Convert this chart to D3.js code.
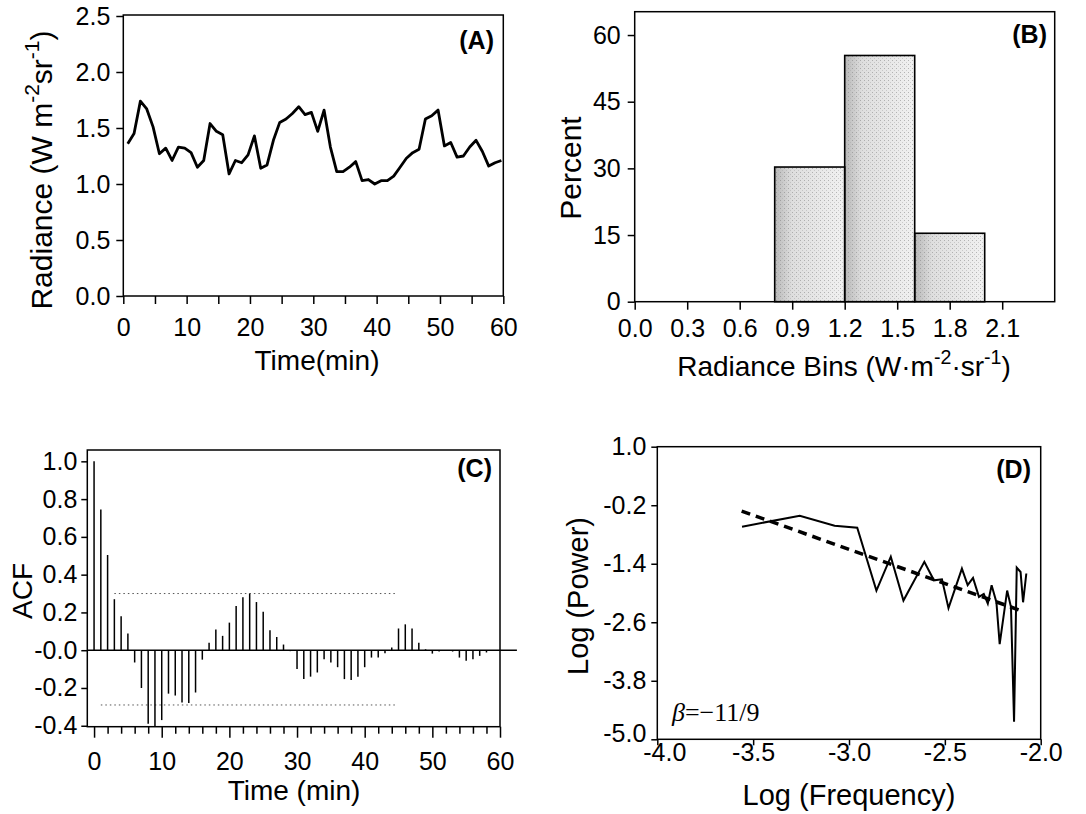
<!DOCTYPE html>
<html>
<head>
<meta charset="utf-8">
<script src="https://cdn.jsdelivr.net/npm/d3@7"></script>
<style>
  body { margin: 0; background: #fff; }
  svg text { font-family: "Liberation Sans", Arial, Helvetica, sans-serif; fill: #000; }
</style>
</head>
<body>
<svg id="fig" width="1086" height="814"></svg>
<script>
// ---- data ----
// (A) radiance time series, one sample per minute
let minutes = d3.range(1, 61);
let radiance = [1.36, 1.45, 1.74, 1.67, 1.51, 1.27, 1.32, 1.21, 1.33, 1.32,
                1.28, 1.15, 1.21, 1.54, 1.47, 1.44, 1.09, 1.21, 1.19, 1.26,
                1.43, 1.14, 1.17, 1.39, 1.55, 1.58, 1.63, 1.69, 1.62, 1.64,
                1.47, 1.66, 1.33, 1.11, 1.11, 1.15, 1.20, 1.03, 1.04, 1.00,
                1.03, 1.03, 1.07, 1.15, 1.23, 1.28, 1.31, 1.58, 1.61, 1.66,
                1.34, 1.37, 1.24, 1.25, 1.33, 1.39, 1.29, 1.16, 1.19, 1.21];
let timeTicks = [0, 10, 20, 30, 40, 50, 60];
let radianceTicks = [0, 0.5, 1.0, 1.5, 2.0, 2.5];

// (B) histogram
let binStart = [0.8, 1.2, 1.6];
let binEnd = [1.2, 1.6, 2.0];
let percent = [30.3, 55.4, 15.4];
let binTicks = [0, 0.3, 0.6, 0.9, 1.2, 1.5, 1.8, 2.1];
let percentTicks = [0, 15, 30, 45, 60];

// (C) autocorrelation
let lags = d3.range(0, 59);
let acf = [1.0, 0.745, 0.504, 0.27, 0.18, 0.088, -0.065, -0.20, -0.39, -0.41,
           -0.37, -0.23, -0.24, -0.277, -0.28, -0.224, -0.05, 0.04, 0.11, 0.076,
           0.146, 0.234, 0.28, 0.30, 0.255, 0.204, 0.106, 0.07, 0.03, -0.005,
           -0.10, -0.153, -0.14, -0.118, -0.048, -0.065, -0.09, -0.153, -0.158, -0.14,
           -0.09, -0.039, -0.039, -0.016, 0.014, 0.115, 0.137, 0.115, 0.04, 0.005,
           -0.018, -0.007, 0.0, -0.007, -0.039, -0.056, -0.048, -0.03, -0.012];
let acfUpper = [[3, 0.30], [44.7, 0.30]];
let acfLower = [[1, -0.29], [44.7, -0.29]];
let acfTicks = [1.0, 0.8, 0.6, 0.4, 0.2, 0.0, -0.2, -0.4];
let acfTickLabels = ['1.0', '0.8', '0.6', '0.4', '0.2', '-0.0', '-0.2', '-0.4'];

// (D) power spectrum, log-log
let logFreq = [-3.558, -3.257, -3.075, -2.957, -2.857, -2.782, -2.716, -2.607, -2.557, -2.515,
               -2.481, -2.411, -2.381, -2.353, -2.322, -2.297, -2.276, -2.256, -2.231, -2.214,
               -2.175, -2.155, -2.139, -2.125, -2.105, -2.092, -2.075];
let logPower = [-0.64, -0.415, -0.62, -0.66, -1.95, -1.255, -2.154, -1.36, -1.74, -1.72,
                -2.31, -1.50, -1.84, -1.69, -2.08, -2.02, -2.22, -1.84, -2.19, -3.05,
                -1.95, -2.29, -4.64, -1.48, -1.57, -2.19, -1.60];
let fitFreq = [-3.56, -2.09];
let fitPower = [-0.32, -2.38];
let freqTicks = [-4.0, -3.5, -3.0, -2.5, -2.0];
let powerTicks = [1.0, -0.2, -1.4, -2.6, -3.8, -5.0];

let svg = d3.select('#fig');
let fmt1 = d => d.toFixed(1).replace('\u2212', '-');

// text with superscripts, parts = [[text, isSup], ...]
function richText(sel, parts, size) {
  let prevSup = false;
  parts.forEach(p => {
    let t = sel.append('tspan').text(p[0]);
    if (p[1]) {
      t.attr('font-size', size * 0.7).attr('dy', -size * 0.42);
    } else if (prevSup) {
      t.attr('dy', size * 0.42);
    }
    prevSup = p[1];
  });
}

function styleAxis(g, labelOffset, side) {
  g.select('.domain').remove();
  g.selectAll('line').attr('stroke', '#000').attr('stroke-width', 1.5);
  g.selectAll('text').attr('font-size', 25).attr('fill', '#000')
    .style('font-family', '"Liberation Sans", Arial, sans-serif');
  if (side === 'bottom') {
    g.selectAll('text').attr('y', labelOffset).attr('dy', 0);
  }
}

function frame(x0, x1, y0, y1) {
  svg.append('rect')
    .attr('x', x0).attr('y', y0)
    .attr('width', x1 - x0).attr('height', y1 - y0)
    .attr('fill', 'none').attr('stroke', '#000').attr('stroke-width', 1.5);
}

function panelTag(label, x, y) {
  svg.append('text').attr('x', x).attr('y', y)
    .attr('text-anchor', 'end').attr('font-size', 25).attr('font-weight', 'bold')
    .text(label);
}

// ================= (A) =================
let xA = d3.scaleLinear().domain([0, 60]).range([123.3, 503.3]);
let yA = d3.scaleLinear().domain([0, 2.5]).range([296, 16]);

frame(123.3, 503.3, 15, 296);

svg.append('g').attr('transform', 'translate(0,296)')
  .call(d3.axisBottom(xA).tickValues(d3.range(0, 61, 5)).tickSize(8)
    .tickFormat(d => timeTicks.includes(d) ? d : ''))
  .call(g => styleAxis(g, 40, 'bottom'));

svg.append('g').attr('transform', 'translate(123.3,0)')
  .call(d3.axisLeft(yA).tickValues(radianceTicks).tickSize(7).tickPadding(6).tickFormat(fmt1))
  .call(g => styleAxis(g, 0, 'left'));

svg.append('path')
  .datum(radiance)
  .attr('fill', 'none').attr('stroke', '#000').attr('stroke-width', 2.8)
  .attr('stroke-linejoin', 'round')
  .attr('d', d3.line().x((d, i) => xA(minutes[i] - 0.3)).y(d => yA(d)));

svg.append('text').attr('x', 317).attr('y', 370).attr('text-anchor', 'middle')
  .attr('font-size', 28).text('Time(min)');

richText(svg.append('text').attr('transform', 'translate(52,170) rotate(-90)')
  .attr('text-anchor', 'middle').attr('font-size', 30),
  [['Radiance (W m', false], ['-2', true], ['sr', false], ['-1', true], [')', false]], 30);

panelTag('(A)', 494, 49);

// ================= (B) =================
let xB = d3.scaleLinear().domain([0, 2.4]).range([634.7, 1054.7]);
let yB = d3.scaleLinear().domain([0, 65.25]).range([301.7, 11.7]);

let defs = svg.append('defs');
let grad = defs.append('linearGradient').attr('id', 'barShade')
  .attr('x1', '0').attr('x2', '1').attr('y1', '0').attr('y2', '0');
grad.append('stop').attr('offset', '0%').attr('stop-color', '#b8b8b8');
grad.append('stop').attr('offset', '25%').attr('stop-color', '#dedede');
grad.append('stop').attr('offset', '100%').attr('stop-color', '#f1f1f1');
let pat = defs.append('pattern').attr('id', 'stipple')
  .attr('width', 4).attr('height', 4).attr('patternUnits', 'userSpaceOnUse');
pat.append('rect').attr('x', 0).attr('y', 0).attr('width', 1).attr('height', 1).attr('fill', '#7a7a7a');
pat.append('rect').attr('x', 2).attr('y', 2).attr('width', 1).attr('height', 1).attr('fill', '#a8a8a8');

frame(634.7, 1054.7, 11.7, 301.7);

let bars = svg.append('g');
bars.selectAll('rect.shade').data(percent).enter().append('rect')
  .attr('class', 'shade')
  .attr('x', (d, i) => xB(binStart[i]))
  .attr('width', (d, i) => xB(binEnd[i]) - xB(binStart[i]))
  .attr('y', d => yB(d))
  .attr('height', d => yB(0) - yB(d))
  .attr('fill', 'url(#barShade)');
bars.selectAll('rect.dots').data(percent).enter().append('rect')
  .attr('class', 'dots')
  .attr('x', (d, i) => xB(binStart[i]))
  .attr('width', (d, i) => xB(binEnd[i]) - xB(binStart[i]))
  .attr('y', d => yB(d))
  .attr('height', d => yB(0) - yB(d))
  .attr('fill', 'url(#stipple)').attr('opacity', 0.5);
bars.selectAll('rect.edge').data(percent).enter().append('rect')
  .attr('class', 'edge')
  .attr('x', (d, i) => xB(binStart[i]))
  .attr('width', (d, i) => xB(binEnd[i]) - xB(binStart[i]))
  .attr('y', d => yB(d))
  .attr('height', d => yB(0) - yB(d))
  .attr('fill', 'none').attr('stroke', '#000').attr('stroke-width', 1.6);

svg.append('g').attr('transform', 'translate(0,301.7)')
  .call(d3.axisBottom(xB).tickValues(binTicks).tickSize(8).tickFormat(fmt1))
  .call(g => styleAxis(g, 35, 'bottom'));

svg.append('g').attr('transform', 'translate(634.7,0)')
  .call(d3.axisLeft(yB).tickValues(percentTicks).tickSize(7).tickPadding(7))
  .call(g => styleAxis(g, 0, 'left'));

richText(svg.append('text').attr('x', 844).attr('y', 376).attr('text-anchor', 'middle')
  .attr('font-size', 28),
  [['Radiance Bins (W\u00b7m', false], ['-2', true], ['\u00b7sr', false], ['-1', true], [')', false]], 28);

svg.append('text').attr('transform', 'translate(581,168) rotate(-90)')
  .attr('text-anchor', 'middle').attr('font-size', 30).text('Percent');

panelTag('(B)', 1047, 43);

// ================= (C) =================
let xC = d3.scaleLinear().domain([-1, 60]).range([87.3, 500]);
let yC = d3.scaleLinear().domain([-0.405, 1.06]).range([726.7, 450]);

frame(87.3, 500, 450, 726.7);

svg.append('g').attr('transform', 'translate(0,726.7)')
  .call(d3.axisBottom(xC).tickValues(d3.range(0, 61, 2)).tickSize(7)
    .tickFormat(d => timeTicks.includes(d) ? d : ''))
  .call(g => styleAxis(g, 43, 'bottom'))
  .call(g => g.selectAll('.tick').filter(d => d % 10 === 0).select('line').attr('y2', 11));

svg.append('g').attr('transform', 'translate(87.3,0)')
  .call(d3.axisLeft(yC).tickValues(acfTicks).tickSize(6).tickPadding(4)
    .tickFormat((d, i) => acfTickLabels[i]))
  .call(g => styleAxis(g, 0, 'left'));

// confidence bands
[acfUpper, acfLower].forEach(band => {
  svg.append('path').datum(band)
    .attr('fill', 'none').attr('stroke', '#555').attr('stroke-width', 1)
    .attr('stroke-dasharray', '1.5,3')
    .attr('d', d3.line().x(d => xC(d[0])).y(d => yC(d[1])));
});

// zero line runs a little past the frame
svg.append('line')
  .attr('x1', xC(-1)).attr('x2', xC(62.5))
  .attr('y1', yC(0)).attr('y2', yC(0))
  .attr('stroke', '#000').attr('stroke-width', 1.5);

svg.append('g').selectAll('line').data(acf).enter().append('line')
  .attr('x1', (d, i) => xC(lags[i])).attr('x2', (d, i) => xC(lags[i]))
  .attr('y1', yC(0)).attr('y2', d => yC(Math.max(d, -0.405)))
  .attr('stroke', '#000').attr('stroke-width', 1.5);

svg.append('text').attr('x', 294).attr('y', 800).attr('text-anchor', 'middle')
  .attr('font-size', 28).text('Time (min)');

svg.append('text').attr('transform', 'translate(32,591) rotate(-90)')
  .attr('text-anchor', 'middle').attr('font-size', 28).text('ACF');

panelTag('(C)', 492, 477);

// ================= (D) =================
let xD = d3.scaleLinear().domain([-4, -2]).range([657.3, 1040.7]);
let yD = d3.scaleLinear().domain([-5, 1]).range([739.3, 446.7]);

frame(657.3, 1040.7, 446.7, 739.3);

svg.append('g').attr('transform', 'translate(0,739.3)')
  .call(d3.axisBottom(xD).tickValues(freqTicks).tickSize(6).tickFormat(fmt1))
  .call(g => styleAxis(g, 22, 'bottom'))
  .call(g => g.selectAll('.tick').filter(d => d === -4).select('text').attr('dx', 7));

svg.append('g').attr('transform', 'translate(657.3,0)')
  .call(d3.axisLeft(yD).tickValues(powerTicks).tickSize(6).tickPadding(5).tickFormat(fmt1))
  .call(g => styleAxis(g, 0, 'left'))
  .call(g => g.selectAll('.tick').filter(d => d === -5).select('text').attr('dy', '0.1em'));

svg.append('path')
  .datum(logFreq)
  .attr('fill', 'none').attr('stroke', '#000').attr('stroke-width', 2)
  .attr('stroke-linejoin', 'miter')
  .attr('d', d3.line().x(d => xD(d)).y((d, i) => yD(logPower[i])));

svg.append('path')
  .datum(fitFreq)
  .attr('fill', 'none').attr('stroke', '#000').attr('stroke-width', 3.5)
  .attr('stroke-dasharray', '9,6')
  .attr('d', d3.line().x(d => xD(d)).y((d, i) => yD(fitPower[i])));

let beta = svg.append('text').attr('x', 672).attr('y', 721)
  .attr('font-size', 26).style('font-family', '"Liberation Serif", "Times New Roman", serif');
beta.append('tspan').attr('font-style', 'italic').text('\u03b2');
beta.append('tspan').text('=\u221211/9');

svg.append('text').attr('x', 849).attr('y', 805).attr('text-anchor', 'middle')
  .attr('font-size', 29).text('Log (Frequency)');

svg.append('text').attr('transform', 'translate(588,596) rotate(-90)')
  .attr('text-anchor', 'middle').attr('font-size', 29).text('Log (Power)');

panelTag('(D)', 1031, 478);
</script>
</body>
</html>
